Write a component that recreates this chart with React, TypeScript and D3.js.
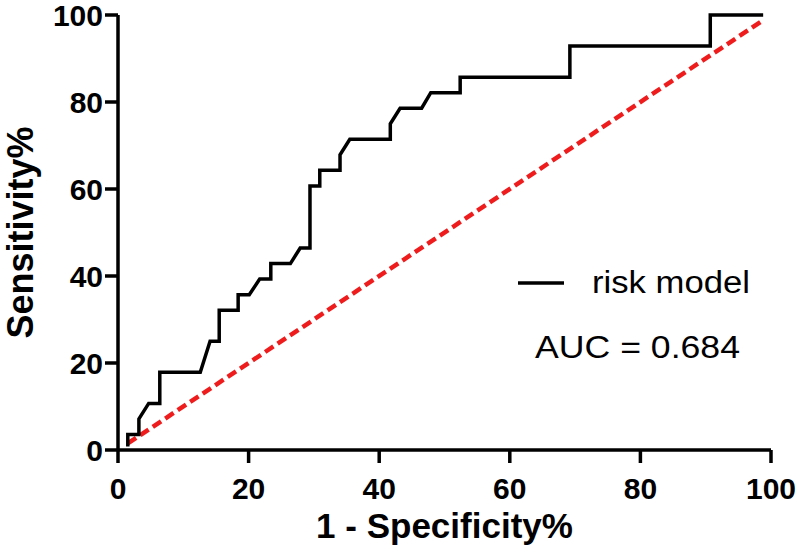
import React from 'react';
import * as d3 from 'd3';

// ROC curve points (percent)
const fpr = [1.5, 1.5, 3.2, 3.2, 4.7, 6.4, 6.4, 12.6, 14.1, 15.5, 15.5, 18.4, 18.4, 20.1, 21.7, 23.4, 23.4, 26.4, 27.9, 29.4, 29.4, 30.9, 30.9, 34, 34, 35.5, 41.7, 41.7, 43.2, 46.5, 47.9, 52.4, 52.4, 69.2, 69.2, 90.7, 90.7, 98.8];
const tpr = [0.8, 3.57, 3.57, 7.14, 10.71, 10.71, 17.86, 17.86, 25, 25, 32.14, 32.14, 35.71, 35.71, 39.29, 39.29, 42.86, 42.86, 46.43, 46.43, 60.71, 60.71, 64.29, 64.29, 67.86, 71.43, 71.43, 75, 78.57, 78.57, 82.14, 82.14, 85.71, 85.71, 92.86, 92.86, 100, 100];
const refLine = [1.5, 98.8];
const ticks = [0, 20, 40, 60, 80, 100];
const seriesName = 'risk model';
const aucLabel = 'AUC = 0.684';

const width = 800;
const height = 555;
const font = 'Arial, "Liberation Sans", Helvetica, sans-serif';

export default function App() {
  const x = d3.scaleLinear().domain([0, 100]).range([118, 771]);
  const y = d3.scaleLinear().domain([0, 100]).range([450, 15]);

  const pts: [number, number][] = fpr.map((v, i) => [v, tpr[i]]);
  const line = d3.line<[number, number]>().x(d => x(d[0])).y(d => y(d[1]));
  const diag = d3.line<number>().x(d => x(d)).y(d => y(d));

  const tickLen = 13;
  const sw = 3.5;

  return (
    <svg width={width} height={height} style={{ position: 'absolute', left: 0, top: 0, background: '#fff' }}>
      {/* diagonal reference */}
      <path d={diag(refLine) || ''} fill="none" stroke="#ee1c1c" strokeWidth={4.5} strokeDasharray="10 5" />
      {/* ROC curve */}
      <path d={line(pts) || ''} fill="none" stroke="#000" strokeWidth={sw} strokeLinejoin="miter" />

      {/* axes */}
      <g stroke="#000" strokeWidth={sw}>
        <line x1={x(0)} x2={x(100)} y1={y(0)} y2={y(0)} />
        <line x1={x(0)} x2={x(0)} y1={y(100)} y2={y(0)} />
        {ticks.map(t => (
          <line key={'xt' + t} x1={x(t)} x2={x(t)} y1={y(0)} y2={y(0) + tickLen} />
        ))}
        {ticks.map(t => (
          <line key={'yt' + t} x1={x(0) - tickLen} x2={x(0)} y1={y(t)} y2={y(t)} />
        ))}
      </g>
      <g fontFamily={font} fontWeight="bold" fontSize={30} fill="#000">
        {ticks.map(t => (
          <text key={'xl' + t} x={x(t)} y={y(0) + 49} textAnchor="middle">{t}</text>
        ))}
        {ticks.map(t => (
          <text key={'yl' + t} x={x(0) - 15} y={y(t) + 11} textAnchor="end">{t}</text>
        ))}
      </g>

      {/* axis titles */}
      <text x={(x(0) + x(100)) / 2} y={538} textAnchor="middle" fontFamily={font} fontWeight="bold" fontSize={35}>
        1 - Specificity%
      </text>
      <text transform={`translate(33, ${(y(0) + y(100)) / 2}) rotate(-90)`} textAnchor="middle" fontFamily={font} fontWeight="bold" fontSize={36}>
        Sensitivity%
      </text>

      {/* legend */}
      <line x1={518} x2={564} y1={283} y2={283} stroke="#000" strokeWidth={sw} />
      <text x={592} y={293} fontFamily={font} fontSize={31} textLength={158} lengthAdjust="spacingAndGlyphs">{seriesName}</text>
      <text x={535} y={358} fontFamily={font} fontSize={32} textLength={205} lengthAdjust="spacingAndGlyphs">{aucLabel}</text>
    </svg>
  );
}
